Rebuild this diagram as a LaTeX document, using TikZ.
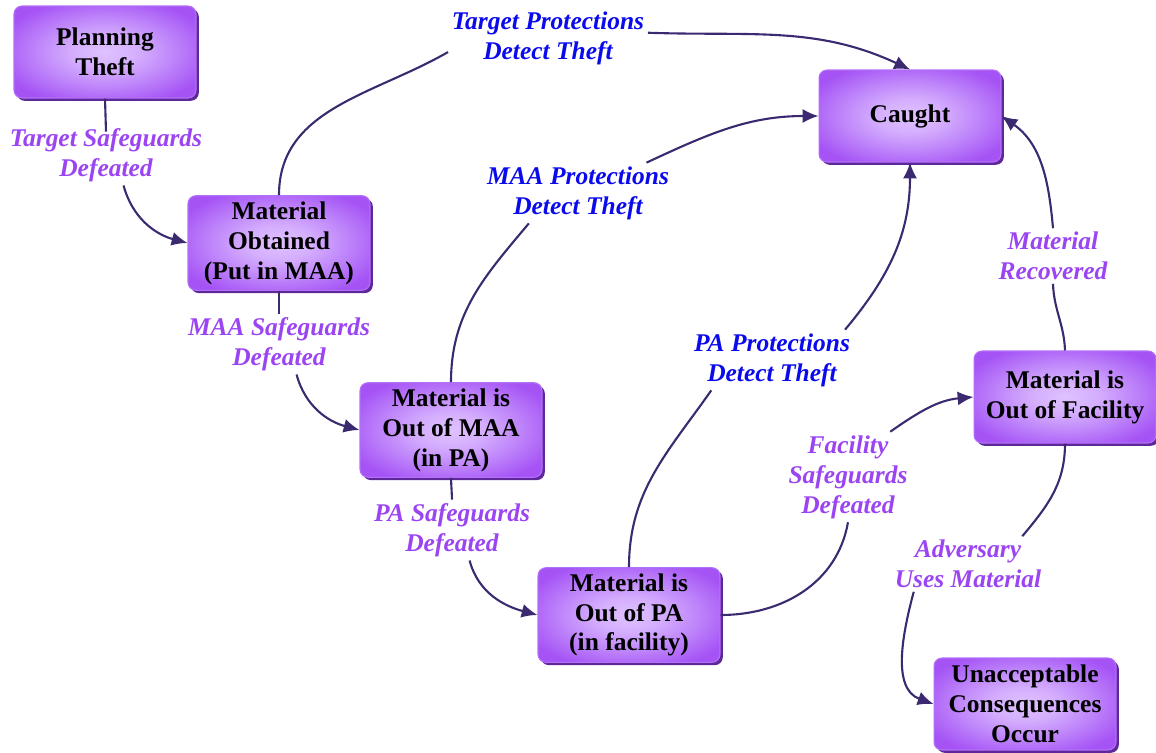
\documentclass[tikz,border=0pt]{standalone}
\usepackage{fontspec}
\setmainfont{Liberation Serif}
\usetikzlibrary{shadows}
\usetikzlibrary{arrows.meta}

\definecolor{stagein}{HTML}{DFC2FF}
\definecolor{stagemid}{HTML}{BC80FA}
\definecolor{stageout}{HTML}{A553F5}
\definecolor{stageedge}{HTML}{B370F8}
\definecolor{stageshadow}{HTML}{5E2898}
\definecolor{linkcol}{HTML}{3B2A70}
\definecolor{safecol}{HTML}{9B44F2}
\definecolor{detectcol}{HTML}{0A0AEC}

\pgfdeclareradialshading{stageglow}{\pgfpoint{0bp}{0bp}}{%
  color(0bp)=(stagein); color(9bp)=(stagein!70!stagemid);
  color(20bp)=(stagemid); color(30bp)=(stageout); color(50bp)=(stageout)}

\begin{document}
\begin{tikzpicture}[x=0.02cm, y=0.02cm,
  stage/.style={rectangle, rounded corners=4.5pt, minimum width=3.64cm,
    minimum height=1.84cm, shading=stageglow, draw=stageedge, line width=0.6pt,
    drop shadow={shadow xshift=1.6pt, shadow yshift=-1.6pt, fill=stageshadow, opacity=1},
    align=center, font=\fontsize{14.5}{17}\selectfont\bfseries},
  safelbl/.style={align=center, inner sep=2pt, text=safecol,
    font=\fontsize{14.5}{17}\selectfont\bfseries\itshape},
  detectlbl/.style={safelbl, text=detectcol},
  link/.style={draw=linkcol, line width=1.2pt},
  flow/.style={link, -{Latex[length=9pt, width=8pt]}}]

%─────────────
% Page frame (pixel grid of the reference)
%─────────────
\useasboundingbox (0,0) rectangle (1156,-752);

%─────────────
% Stages of the theft
%─────────────
\node[stage] (plan)   at (105,-52)   {Planning\\Theft};
\node[stage] (obt)    at (279,-243)  {Material\\Obtained\\(Put in MAA)};
\node[stage] (maa)    at (451,-430)  {Material is\\Out of MAA\\(in PA)};
\node[stage] (pa)     at (629,-615)  {Material is\\Out of PA\\(in facility)};
\node[stage] (caught) at (910,-116)  {Caught};
\node[stage] (fac)    at (1065,-397) {Material is\\Out of Facility};
\node[stage] (unacc)  at (1025,-704) {Unacceptable\\Consequences\\Occur};

%─────────────
% Edge labels
%─────────────
\node[safelbl] (l1) at (106,-155)  {Target Safeguards\\Defeated};
\node[safelbl] (l2) at (279,-344)  {MAA Safeguards\\Defeated};
\node[safelbl] (l3) at (452,-530)  {PA Safeguards\\Defeated};
\node[safelbl] (l4) at (848,-477)  {Facility\\Safeguards\\Defeated};
\node[safelbl] (l5) at (968,-564)  {Adversary\\Uses Material};
\node[safelbl] (l6) at (1053,-256) {Material\\Recovered};
\node[detectlbl] (l7) at (772,-360) {PA Protections\\Detect Theft};
\node[detectlbl] (l8) at (578,-193) {MAA Protections\\Detect Theft};
\node[detectlbl] (l9) at (548,-38)  {Target Protections\\Detect Theft};

%─────────────
% Safeguards defeated (main chain)
%─────────────
\draw[link] (plan.south) -- ([yshift=-4pt]l1.north);
\draw[flow] ([xshift=10pt]l1.south) to[out=-75, in=165] (obt.west);

\draw[link] (obt.south) -- (l2.north);
\draw[flow] ([xshift=10pt]l2.south) to[out=-75, in=165] (maa.west);

\draw[link] (maa.south) to[out=-88, in=92] (l3.north);
\draw[flow] ([xshift=10pt]l3.south) to[out=-75, in=165] (pa.west);

\draw[link] (pa.east) to[out=0, in=-100] (l4.south);
\draw[flow] ([xshift=-12pt]l4.north east) to[out=35, in=185] (fac.west);

\draw[link] (fac.south) to[out=-90, in=50] ([xshift=-13pt]l5.north east);
\draw[flow] ([xshift=13pt]l5.south west) to[out=-105, in=160] (unacc.west);

%─────────────
% Detection / recovery (to Caught)
%─────────────
\draw[link] (fac.north) to[out=92, in=-88] (l6.south);
\draw[flow] (l6.north) to[out=95, in=-35] (caught.east);

\draw[link] (pa.north) to[out=90, in=-125] ([xshift=12pt]l7.south west);
\draw[flow] ([xshift=-5pt]l7.north east) to[out=50, in=-90] (caught.south);

\draw[link] (maa.north) to[out=90, in=-130] ([xshift=26pt]l8.south west);
\draw[flow] ([xshift=-15pt]l8.north east) to[out=25, in=180] (caught.west);

\draw[link] (obt.north) to[out=90, in=-150] ([yshift=-8pt]l9.west);
\draw[flow] ([yshift=3pt]l9.east) to[out=-2, in=155] (caught.north);

\end{tikzpicture}
\end{document}
